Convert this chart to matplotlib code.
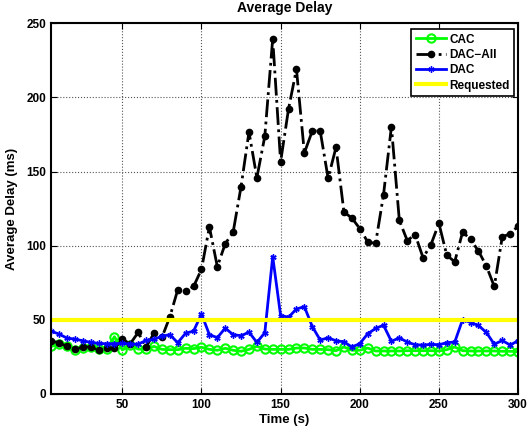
import matplotlib
matplotlib.use("Agg")
import matplotlib.pyplot as plt
import numpy as np

plt.rcParams['font.family'] = ['Liberation Sans', 'DejaVu Sans']
plt.rcParams['font.weight'] = 'bold'

# time axis, one sample every 5 s
t = np.arange(5, 301, 5)

cac = [32.1, 33.5, 32.1, 29.5, 31.2, 31.7, 30.6, 30.1, 38.6, 29.7,
       32.8, 30.3, 30.1, 32.1, 30.1, 29.9, 29.9, 30.8, 30.6, 31.5,
       30.1, 29.5, 30.8, 29.5, 28.8, 30.1, 32.1, 30.3, 30.1, 30.1,
       30.1, 31.0, 31.0, 30.1, 30.1, 29.9, 29.2, 31.7, 29.5, 29.5,
       31.0, 29.0, 29.0, 29.0, 29.0, 29.2, 29.2, 29.2, 29.2, 29.0,
       29.9, 31.7, 29.2, 29.0, 29.0, 29.0, 29.0, 28.8, 28.8, 28.5]

dac_all = [35.7, 34.6, 32.1, 30.1, 31.7, 31.7, 29.5, 30.8, 30.8, 36.8,
           33.9, 41.5, 31.7, 41.0, 38.1, 52.0, 70.3, 69.6, 72.5, 84.1,
           112.7, 85.9, 101.3, 109.1, 139.9, 176.7, 145.9, 173.8, 239.6, 156.6,
           192.3, 219.1, 162.6, 177.4, 177.4, 145.5, 166.4, 122.7, 118.7, 111.6,
           102.6, 101.5, 134.3, 180.3, 117.1, 103.5, 107.5, 91.9, 100.8, 115.1,
           93.5, 89.2, 109.3, 104.2, 96.4, 86.3, 72.5, 105.8, 108.2, 113.1]

dac = [42.4, 40.4, 37.7, 37.0, 35.9, 34.8, 34.1, 33.9, 33.9, 34.1,
       33.7, 33.6, 36.1, 36.8, 39.0, 40.0, 34.6, 41.0, 42.4, 54.0,
       40.0, 38.0, 44.4, 40.0, 39.3, 41.7, 34.8, 41.3, 92.6, 52.9,
       51.8, 57.3, 58.9, 45.5, 36.4, 37.9, 35.9, 35.2, 31.7, 33.9,
       40.6, 44.2, 46.4, 35.5, 37.9, 35.0, 33.2, 33.0, 33.5, 33.2,
       34.6, 35.0, 50.2, 48.2, 46.2, 41.5, 33.5, 36.1, 33.0, 35.9]

requested = 50

fig = plt.figure(figsize=(5.27, 4.32), dpi=100)
ax = fig.add_axes([0.097, 0.088, 0.886, 0.858])

ax.plot(t, cac, color=(0, 1, 0), lw=2, marker='o', ms=6, mfc='none',
        mew=1.5, label='CAC')
ax.plot(t, dac_all, color='black', lw=2, ls='-.', marker='o', ms=4.5,
        label='DAC\u2212All')
ax.plot(t, dac, color=(0, 0, 1), lw=2, marker=(6, 2, 0), ms=4.5, mew=1,
        label='DAC')
ax.plot([5, 300], [requested, requested], color=(1, 1, 0), lw=3,
        label='Requested')

ax.set_xlim(5, 300)
ax.set_ylim(0, 250)
ax.set_xticks([50, 100, 150, 200, 250, 300])
ax.set_yticks([0, 50, 100, 150, 200, 250])
ax.grid(True, ls=':', color='#555555', lw=0.8)
ax.tick_params(direction='in', top=True, right=True, labelsize=8.5, length=4)
for s in ax.spines.values():
    s.set_linewidth(1.5)

ax.set_title('Average Delay', fontsize=10, fontweight='bold', pad=8)
ax.set_xlabel('Time (s)', fontsize=9.5, fontweight='bold', labelpad=2)
ax.set_ylabel('Average Delay (ms)', fontsize=9.5, fontweight='bold',
              labelpad=6)

leg = ax.legend(loc='upper right', bbox_to_anchor=(0.992, 0.985),
                borderaxespad=0, fontsize=8.5, fancybox=False,
                framealpha=1, edgecolor='black', handlelength=2.5,
                borderpad=0.4, labelspacing=0.28, handletextpad=0.3)
leg.get_frame().set_linewidth(1.2)

fig.savefig('out.png', dpi=100)
